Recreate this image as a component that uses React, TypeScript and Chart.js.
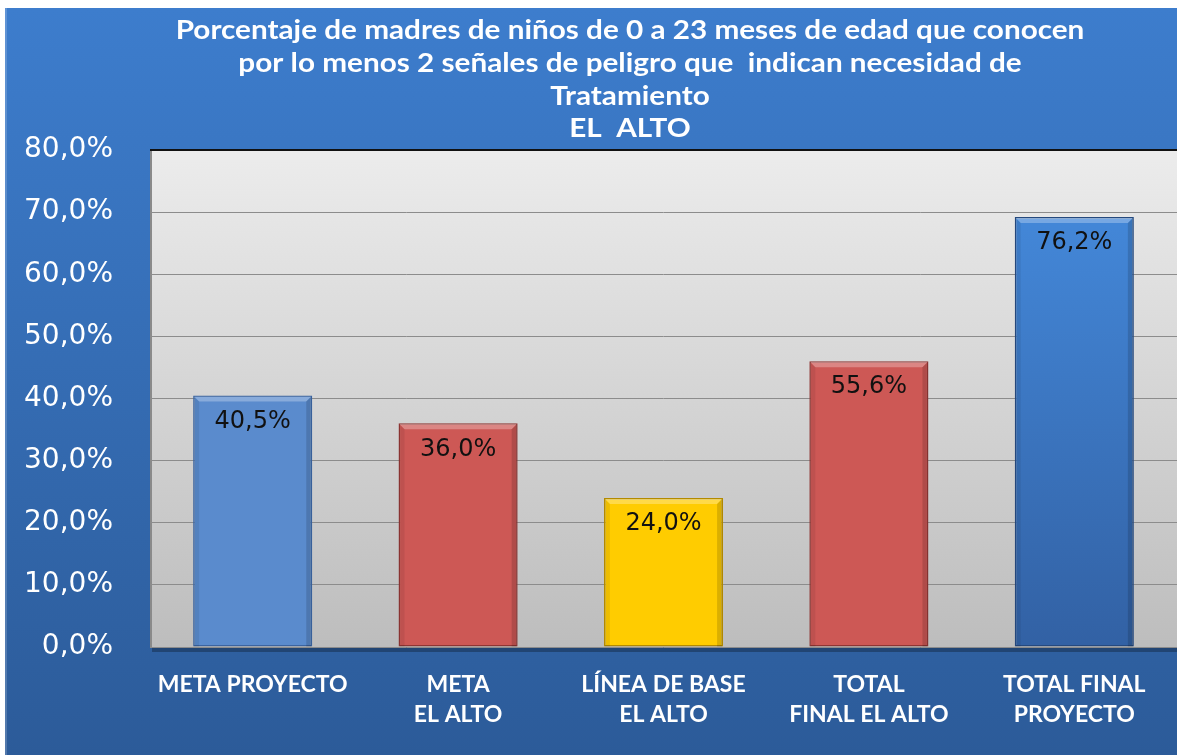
import React, { useEffect, useRef } from "react";
import { Chart, registerables } from "chart.js";

Chart.register(...registerables);

// Data
const titleLines = [
  "Porcentaje de madres de niños de 0 a 23 meses de edad que conocen",
  "por lo menos 2 señales de peligro que  indican necesidad de",
  "Tratamiento",
  "EL  ALTO",
];
const categories = [
  ["META PROYECTO"],
  ["META", "EL ALTO"],
  ["LÍNEA DE BASE", "EL ALTO"],
  ["TOTAL", "FINAL EL ALTO"],
  ["TOTAL FINAL", "PROYECTO"],
];
// Bar heights as drawn in the picture (percent)
const barValues = [40.5, 36.0, 24.0, 46.0, 69.2];
// Value labels as printed in the picture
const valueLabels = ["40,5%", "36,0%", "24,0%", "55,6%", "76,2%"];
const barColors = ["#5a8bcd", "#cd5855", "#ffcc00", "#cd5855", "gradient"];
const barBorders = ["#3b64a0", "#8e3533", "#b38a00", "#8e3533", "#25497e"];
const yMin = 0;
const yMax = 80;
const yStep = 10;

const bgPlugin = {
  id: "bgPlugin",
  beforeDraw(chart: any) {
    const { ctx, width, height, chartArea } = chart;
    ctx.save();
    const g = ctx.createLinearGradient(0, 0, 0, height);
    g.addColorStop(0, "#3d7dcd");
    g.addColorStop(1, "#2c5b99");
    ctx.fillStyle = g;
    ctx.fillRect(0, 0, width, height);
    ctx.fillStyle = "rgba(255,255,255,0.18)";
    ctx.fillRect(0, 0, 2, height);
    // plot shadow
    ctx.fillStyle = "rgba(0,0,0,0.28)";
    ctx.fillRect(chartArea.left + 2, chartArea.bottom, chartArea.right - chartArea.left, 5);
    const pg = ctx.createLinearGradient(0, chartArea.top, 0, chartArea.bottom);
    pg.addColorStop(0, "#ececec");
    pg.addColorStop(1, "#bdbdbd");
    ctx.fillStyle = pg;
    ctx.fillRect(chartArea.left, chartArea.top, chartArea.right - chartArea.left, chartArea.bottom - chartArea.top);
    ctx.fillStyle = "#8a8a8a";
    ctx.fillRect(chartArea.left, chartArea.top, 2, chartArea.bottom - chartArea.top);
    ctx.restore();
  },
  afterDraw(chart: any) {
    const { ctx, chartArea } = chart;
    ctx.save();
    ctx.fillStyle = "#111";
    ctx.fillRect(chartArea.left, chartArea.top - 1, chartArea.right - chartArea.left, 2);
    ctx.fillStyle = "#ffffff";
    ctx.textAlign = "center";
    ctx.textBaseline = "middle";
    ctx.font = "bold 27px Lato";
    const cx = 625;
    const sx = 1.1;
    const ys = [22, 55, 88, 120];
    ctx.scale(sx, 1);
    titleLines.forEach((t, i) => ctx.fillText(t, cx / sx, ys[i]));
    ctx.restore();
  },
};

const bevelPlugin = {
  id: "bevelPlugin",
  afterDatasetsDraw(chart: any) {
    const { ctx } = chart;
    const meta = chart.getDatasetMeta(0);
    ctx.save();
    meta.data.forEach((bar: any, i: number) => {
      const w = bar.width;
      const l = bar.x - w / 2;
      const r = bar.x + w / 2;
      const t = bar.y;
      const b = bar.base;
      const d = 6;
      ctx.fillStyle = "rgba(255,255,255,0.28)";
      ctx.beginPath();
      ctx.moveTo(l + 1, t + 1);
      ctx.lineTo(r - 1, t + 1);
      ctx.lineTo(r - d, t + d);
      ctx.lineTo(l + d, t + d);
      ctx.closePath();
      ctx.fill();
      ctx.fillStyle = "rgba(0,0,0,0.07)";
      ctx.beginPath();
      ctx.moveTo(l + 1, t + 1);
      ctx.lineTo(l + d, t + d);
      ctx.lineTo(l + d, b);
      ctx.lineTo(l + 1, b);
      ctx.closePath();
      ctx.fill();
      ctx.fillStyle = "rgba(0,0,0,0.14)";
      ctx.beginPath();
      ctx.moveTo(r - 1, t + 1);
      ctx.lineTo(r - d, t + d);
      ctx.lineTo(r - d, b);
      ctx.lineTo(r - 1, b);
      ctx.closePath();
      ctx.fill();
      // value label
      ctx.fillStyle = "#111";
      ctx.font = "24px 'DejaVu Sans'";
      ctx.textAlign = "center";
      ctx.textBaseline = "middle";
      ctx.fillText(valueLabels[i], bar.x, t + 26);
    });
    ctx.restore();
  },
};

export default function App() {
  const ref = useRef<HTMLCanvasElement | null>(null);
  useEffect(() => {
    if (!ref.current) return;
    const chart = new Chart(ref.current, {
      type: "bar",
      data: {
        labels: categories,
        datasets: [
          {
            data: barValues,
            backgroundColor: (c: any) => {
              const col = barColors[c.dataIndex];
              if (col !== "gradient") return col;
              const area = c.chart.chartArea;
              if (!area) return "#3b78c8";
              const g = c.chart.ctx.createLinearGradient(0, area.top, 0, area.bottom);
              g.addColorStop(0, "#468de0");
              g.addColorStop(1, "#3261a4");
              return g;
            },
            borderColor: barBorders,
            borderWidth: 1.5,
            borderSkipped: false,
            categoryPercentage: 1,
            barPercentage: 0.58,
          },
        ],
      },
      options: {
        animation: false,
        responsive: true,
        maintainAspectRatio: false,
        layout: { padding: { top: 142, left: 0, right: 0, bottom: 0 } },
        plugins: {
          legend: { display: false },
          tooltip: { enabled: false },
          title: { display: false },
        },
        scales: {
          x: {
            grid: { display: false, drawTicks: false },
            border: { display: false },
            ticks: {
              color: "#ffffff",
              font: { family: "Lato", weight: "bold", size: 23, lineHeight: "30px" } as any,
              padding: 23,
              maxRotation: 0,
              autoSkip: false,
            },
            afterFit: (s: any) => {
              s.height = 108;
            },
          },
          y: {
            min: yMin,
            max: yMax,
            grid: { color: "#8c8c8c", lineWidth: 1, drawTicks: false },
            border: { display: false },
            ticks: {
              stepSize: yStep,
              color: "#ffffff",
              font: { family: "DejaVu Sans", size: 28 },
              padding: 37,
              callback: (v: any) => Number(v).toFixed(1).replace(".", ",") + "%",
            },
            afterFit: (s: any) => {
              s.width = 145;
            },
          },
        },
      },
      plugins: [bgPlugin, bevelPlugin],
    });
    return () => chart.destroy();
  }, []);
  return (
    <div style={{ position: "fixed", left: 5, top: 8, width: 1172, height: 747 }}>
      <canvas ref={ref} />
    </div>
  );
}
